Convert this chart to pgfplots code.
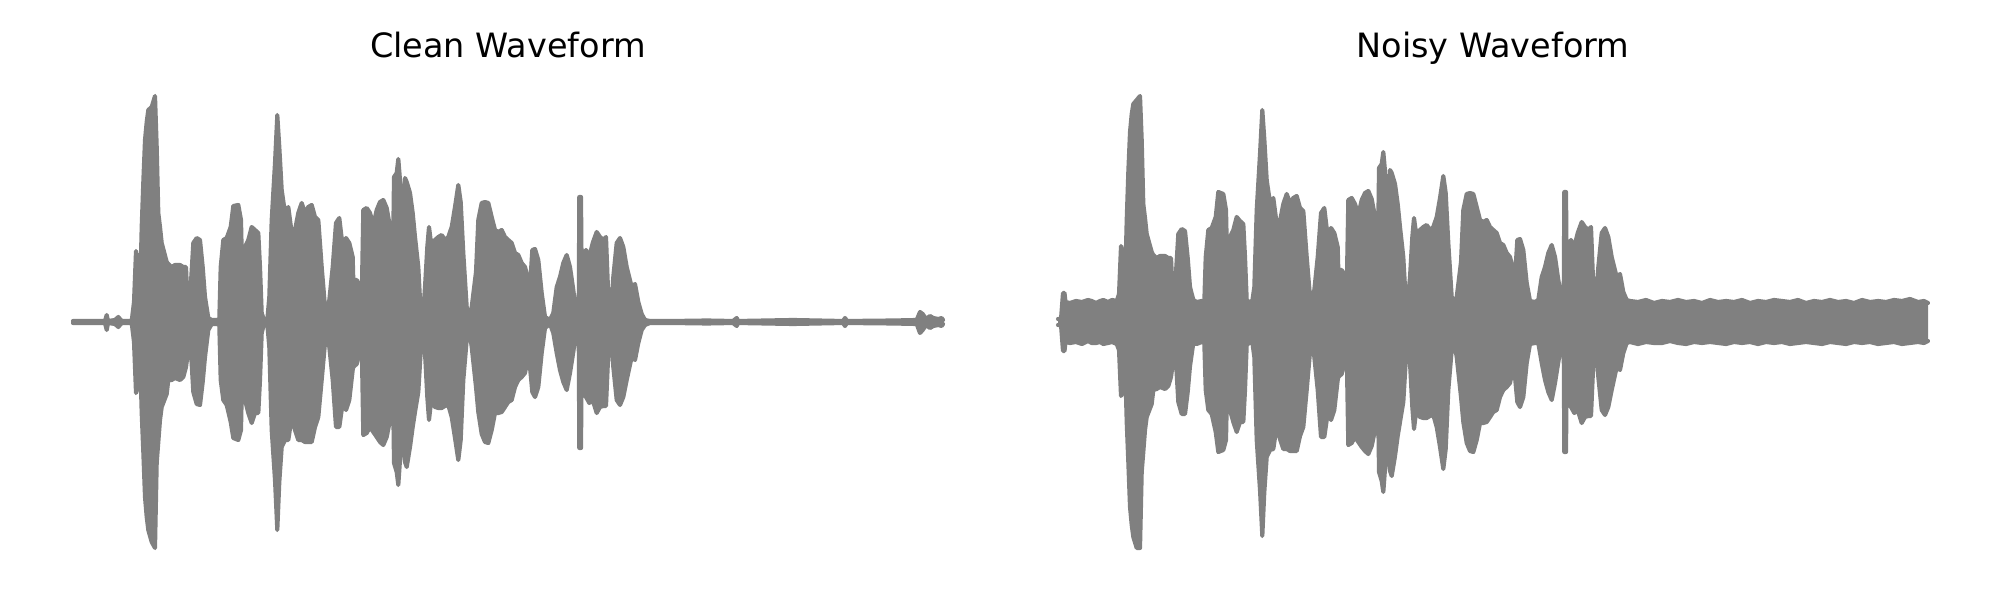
\documentclass[border=0pt]{standalone}
\usepackage{pgfplots}
\pgfplotsset{compat=1.18}
\usepgfplotslibrary{fillbetween}
\usepackage{pgfplotstable}
\usepackage{fontspec}
\setmainfont{DejaVu Sans}
\definecolor{wave}{HTML}{808080}

% envelope of the clean waveform: x (time, px units), upper and lower amplitude
\pgfplotstableread{
x hi lo
0 1 -1
20 1 -1
32 1 -1
33.7 7 -8
35 1 -1
42 2 -2
45.3 5 -5
48.7 1 -1
58.7 1 -1
61 20 -20
63 71 -71
65 60 -65
67 25 -30
68.7 95 -91
70.3 140 -130
72 182 -175
73.7 200 -195
75.3 212 -208
78.7 215 -220
82 226 -226
83.7 175 -141
85.3 109 -120
87 95 -98
88.7 79 -85
93.7 60 -72
95.3 58 -58
98.7 55 -58
102 57 -56
107 57 -58
110.3 55 -55
113 55 -45
114.3 25 -35
116.3 9 -11
117.7 35 -25
120.3 79 -70
123.7 84 -82
127 82 -83
129.7 55 -60
132 25 -35
135.3 4 -8
138.7 2 -2
143.7 2 -2
146.3 3 -3
147.7 55 -58
150.3 82 -78
153.7 84 -83
157.7 95 -100
160.3 116 -116
165.3 117 -118
168 102 -108
169.7 25 -25
172 75 -78
175.3 82 -91
178.7 95 -101
182 92 -91
185.3 89 -91
187 55 -58
188.7 9 -11
191 2 -2
194.3 2 -2
196.3 25 -25
198.7 102 -108
202 159 -158
204.3 207 -208
206.3 175 -160
208.7 132 -125
212 109 -118
215.3 115 -118
218.7 89 -95
222 92 -108
225.3 109 -118
228.7 119 -118
232 109 -120
235.3 115 -120
238.7 117 -120
242 105 -105
245.3 102 -95
248.7 55 -58
252 15 -21
253.7 5 -5
256.3 22 -25
259.7 55 -58
263 99 -105
266.3 104 -105
269.7 75 -81
273 84 -88
276.3 79 -78
279.7 65 -48
280.3 42 -45
283.7 42 -42
287 35 -25
288.7 22 -20
290.3 112 -113
293.7 114 -111
297 109 -105
300.3 97 -110
303.7 112 -115
307 120 -120
310.3 122 -123
313.7 114 -115
317 95 -98
319.7 42 -41
321 145 -141
323.7 149 -150
325.3 163 -163
327 142 -138
328.7 105 -110
330.3 109 -118
332 144 -140
333.7 140 -145
337 129 -125
339.7 109 -105
342 85 -90
345.3 55 -70
347.7 9 -30
349.7 2 -11
352 35 -31
354.3 75 -75
356 95 -98
358 79 -80
362 82 -85
365.3 85 -86
368.7 87 -86
372 82 -84
375.3 85 -83
378.7 95 -95
382 115 -116
385.3 137 -138
387.7 120 -118
390.3 69 -58
393.7 15 -18
396 4 -5
398.7 15 -25
403 50 -65
405.3 102 -90
408.7 119 -112
412 120 -120
415.3 119 -121
418.7 105 -108
422 92 -91
425.3 90 -91
428.7 92 -90
432 85 -85
435.3 82 -80
438.7 79 -78
442 69 -65
445.3 67 -58
448.7 59 -55
452 55 -51
455.3 42 -35
457 35 -45
459.3 72 -70
462 73 -75
465.3 62 -65
468.7 29 -31
472 5 -6
477 2 -2
480.3 9 -11
483.7 35 -31
487 45 -48
490.3 59 -60
493.7 67 -68
497 55 -51
500.3 32 -30
503.7 5 -5
505.7 5 -5
506.3 125 -126
508 125 -126
508.7 40 -40
509.7 65 -71
513 72 -75
516.3 65 -81
519.7 79 -78
523.7 90 -91
527 85 -85
530.3 82 -84
533 85 -84
535.3 25 -31
537.7 8 -11
540.3 45 -45
543.7 79 -78
547 84 -83
550.3 75 -75
553.7 55 -58
558.7 35 -35
562 38 -38
565.3 20 -21
568.7 8 -8
572 2 -3
577 1 -1
600 1 -1
634 1.5 -1.5
660 1 -1
663.7 4 -4
665 1 -1
720 2 -2
770 1 -1
772 4 -4
774 1 -1
820 1.5 -1.5
843.7 2 -2
847 10 -11
849.7 8 -8
853 3 -3
857 6 -6
860.3 4 -4
865.3 3 -3
868.7 4 -4
870 2 -2
}\clean

% envelope of the noisy waveform
\pgfplotstableread{
x hi lo
0 3 -3
3 3 -3
5 29 -29
6.5 29 -29
7.5 20 -20
12 19 -21
18 21 -20
24 20 -22
30 22 -19
33.7 21 -21
38 19 -21
42 21 -20
45.3 22 -22
50 20 -21
54 22 -20
58.7 21 -22
61 28 -28
63 76 -74
65 68 -70
67 35 -38
68.7 102 -100
70.3 150 -140
72 190 -185
73.7 208 -203
75.3 218 -215
78.7 222 -226
82 226 -226
83.7 182 -150
85.3 118 -130
87 104 -108
88.7 88 -95
93.7 70 -82
95.3 67 -68
98.7 64 -67
102 66 -65
107 66 -67
110.3 64 -64
113 64 -55
114.3 36 -45
116.3 22 -24
117.7 45 -35
120.3 88 -80
123.7 93 -92
127 91 -92
129.7 64 -70
132 35 -44
135.3 22 -21
138.7 20 -22
143.7 21 -20
146.3 20 -21
147.7 65 -68
150.3 92 -88
153.7 94 -92
157.7 105 -110
160.3 130 -130
165.3 128 -128
168 112 -118
169.7 35 -35
172 85 -88
175.3 92 -100
178.7 105 -110
182 101 -100
185.3 98 -100
187 65 -68
188.7 22 -23
191 20 -21
194.3 21 -20
196.3 35 -35
198.7 112 -118
202 168 -168
204.3 212 -214
206.3 183 -170
208.7 142 -135
212 119 -128
215.3 124 -127
218.7 98 -104
222 101 -117
225.3 118 -127
228.7 128 -127
232 119 -129
235.3 124 -129
238.7 126 -129
242 114 -114
245.3 111 -105
248.7 65 -68
252 25 -30
253.7 21 -20
256.3 32 -35
259.7 65 -68
263 109 -115
266.3 114 -115
269.7 85 -91
273 94 -98
276.3 89 -88
279.7 75 -58
280.3 52 -55
283.7 52 -52
287 45 -35
288.7 32 -30
290.3 122 -123
293.7 124 -121
297 118 -115
300.3 107 -120
303.7 122 -125
307 129 -129
310.3 131 -132
313.7 123 -124
317 105 -108
319.7 52 -51
321 154 -150
323.7 158 -159
325.3 170 -170
327 151 -147
328.7 115 -120
330.3 118 -127
332 152 -149
333.7 149 -154
337 138 -134
339.7 118 -114
342 95 -100
345.3 65 -80
347.7 22 -40
349.7 20 -22
352 45 -41
354.3 85 -85
356 104 -107
358 89 -90
362 92 -95
365.3 95 -96
368.7 97 -96
372 92 -94
375.3 95 -93
378.7 105 -105
382 124 -125
385.3 146 -147
387.7 129 -127
390.3 79 -68
393.7 25 -28
396 21 -20
398.7 25 -35
403 60 -75
405.3 112 -100
408.7 128 -121
412 129 -129
415.3 128 -130
418.7 115 -118
422 102 -101
425.3 100 -101
428.7 102 -100
432 95 -95
435.3 92 -90
438.7 89 -88
442 79 -75
445.3 77 -68
448.7 69 -65
452 65 -61
455.3 52 -45
457 45 -55
459.3 82 -80
462 83 -85
465.3 72 -75
468.7 39 -41
472 21 -22
477 20 -21
480.3 22 -21
483.7 45 -41
487 55 -58
490.3 69 -70
493.7 77 -78
497 65 -61
500.3 42 -40
503.7 22 -21
505.7 21 -22
506.3 130 -130
508 130 -130
508.7 48 -48
509.7 75 -81
513 82 -85
516.3 75 -91
519.7 89 -88
523.7 100 -101
527 95 -95
530.3 92 -94
533 95 -94
535.3 35 -41
537.7 22 -23
540.3 55 -55
543.7 89 -88
547 94 -93
550.3 85 -85
553.7 65 -68
558.7 45 -45
562 48 -48
565.3 30 -31
568.7 22 -21
572 21 -20
580 20 -22
588 22 -20
596 19 -21
604 21 -21
612 20 -19
620 22 -21
628 20 -22
636 21 -20
644 19 -21
652 22 -20
660 20 -21
668 21 -22
676 20 -20
684 22 -21
692 19 -20
700 21 -22
708 20 -20
716 22 -21
724 21 -20
732 20 -22
740 22 -21
748 19 -20
756 21 -21
764 20 -22
772 22 -20
780 20 -21
788 21 -22
796 19 -20
804 22 -21
812 20 -20
820 21 -22
828 20 -21
836 22 -20
844 21 -22
852 23 -21
860 20 -20
866 21 -21
870 19 -19
}\noisy

\pgfplotsset{
  wavestyle/.style={
    hide axis, scale only axis, clip=false,
    width=8.7in, height=4.52in,
    xmin=0, xmax=870, ymin=-226, ymax=226,
    anchor=center,
    title style={at={(0.5,1)}, anchor=base, yshift=0.30in,
      font=\fontsize{24.2}{29}\selectfont, text=black},
  },
  env/.style={draw=wave, line width=3pt, line join=round, line cap=round},
}

\begin{document}
\begin{tikzpicture}
\path (0,0) rectangle (20in,6in);

\begin{axis}[wavestyle, at={(5.08in,2.78in)}, title={Clean Waveform}]
  \addplot[env, name path=cu] table[x=x, y=hi] {\clean};
  \addplot[env, name path=cl] table[x=x, y=lo] {\clean};
  \addplot[fill=wave, draw=none] fill between[of=cu and cl];
\end{axis}

\begin{axis}[wavestyle, at={(14.93in,2.78in)}, title={Noisy Waveform}]
  \addplot[env, name path=nu] table[x=x, y=hi] {\noisy};
  \addplot[env, name path=nl] table[x=x, y=lo] {\noisy};
  \addplot[fill=wave, draw=none] fill between[of=nu and nl];
\end{axis}
\end{tikzpicture}
\end{document}
